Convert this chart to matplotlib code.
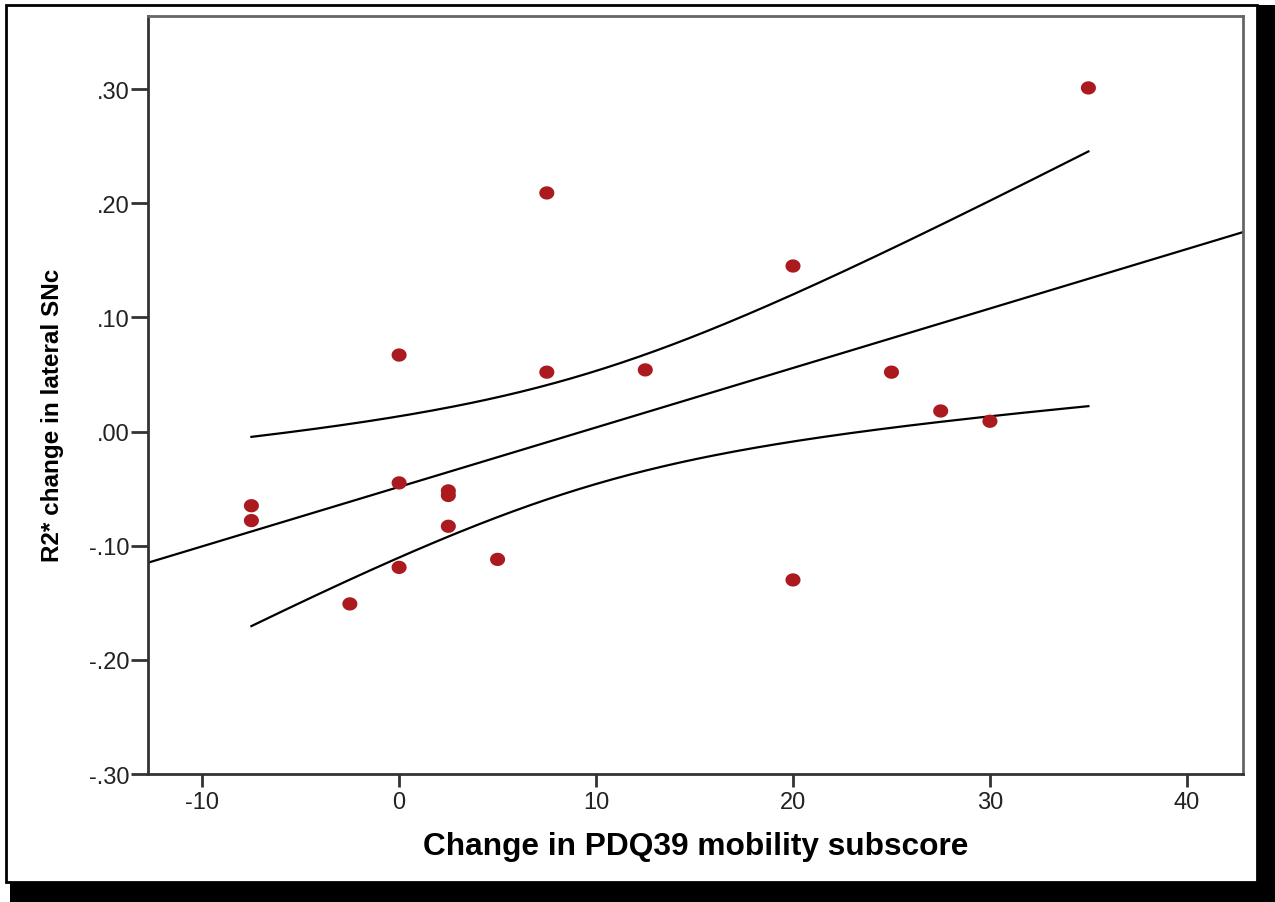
import numpy as np
import matplotlib.pyplot as plt
from matplotlib.patches import Rectangle

# change in PDQ39 mobility subscore vs change in R2* (lateral SNc)
pdq_change = [35, 7.5, 20, 0, 7.5, 12.5, 25, 27.5, 30, 0,
              2.5, 2.5, 2.5, -7.5, -7.5, 0, 5, -2.5, 20]
r2_change = [0.301, 0.209, 0.145, 0.067, 0.052, 0.054, 0.052, 0.018, 0.009, -0.045,
             -0.052, -0.056, -0.083, -0.065, -0.078, -0.119, -0.112, -0.151, -0.130]

x_ticks = [-10, 0, 10, 20, 30, 40]
y_ticks = [-0.30, -0.20, -0.10, 0.00, 0.10, 0.20, 0.30]
y_labels = ['-.30', '-.20', '-.10', '.00', '.10', '.20', '.30']

plt.rcParams['font.family'] = ['Liberation Sans', 'DejaVu Sans']

fig = plt.figure(figsize=(12.75, 9.03), dpi=100)
W, H = 1275, 903

# shadow + white frame
fig.patches.append(Rectangle((10 / W, 0), 1 - 10 / W, 1 - 6 / H, transform=fig.transFigure,
                             facecolor='black', edgecolor='none', zorder=0))
fig.patches.append(Rectangle((6 / W, 1 - 883 / H), (1257 - 6) / W, (883 - 6) / H,
                             transform=fig.transFigure, facecolor='white',
                             edgecolor='black', linewidth=2, zorder=1))

ax = fig.add_axes([148 / W, 1 - 775 / H, (1243 - 148) / W, (775 - 17) / H])
ax.set_zorder(2)

x = np.array(pdq_change)
y = np.array(r2_change)
n = len(x)
b, a = np.polyfit(x, y, 1)
resid = y - (a + b * x)
s = np.sqrt(np.sum(resid ** 2) / (n - 2))
sxx = np.sum((x - x.mean()) ** 2)
t = 2.1098  # t(0.975, 17)

xl = (-12.75, 42.85)
xx = np.linspace(xl[0], xl[1], 200)
ax.plot(xx, a + b * xx, color='black', lw=1.6, zorder=2)
xc = np.linspace(x.min(), x.max(), 200)
half = t * s * np.sqrt(1 / n + (xc - x.mean()) ** 2 / sxx)
ax.plot(xc, a + b * xc + half, color='black', lw=1.6, zorder=2)
ax.plot(xc, a + b * xc - half, color='black', lw=1.6, zorder=2)

# slightly wide dots, like the SPSS markers
th = np.linspace(0, 2 * np.pi, 40)
dot = np.column_stack([np.cos(th), 0.88 * np.sin(th)])
ax.scatter(x, y, s=118, marker=dot, color='#aa1a1e', edgecolors='none', zorder=3)

ax.set_xlim(*xl)
ax.set_ylim(-0.30, 0.364)
ax.set_xticks(x_ticks)
ax.set_xticklabels([str(v) for v in x_ticks])
ax.set_yticks(y_ticks)
ax.set_yticklabels(y_labels)
ax.tick_params(axis='both', labelsize=17, color='#333333', labelcolor='#222222', width=2)
ax.tick_params(axis='x', length=9, pad=3)
ax.tick_params(axis='y', length=12.5, pad=1)
for side in ['left', 'bottom']:
    ax.spines[side].set_color('#333333')
    ax.spines[side].set_linewidth(2)
for side in ['top', 'right']:
    ax.spines[side].set_color('#666666')
    ax.spines[side].set_linewidth(2)

ax.set_xlabel('Change in PDQ39 mobility subscore', fontsize=22.8, fontweight='bold',
              labelpad=13)
ax.set_ylabel('R2* change in lateral SNc', fontsize=17.5, fontweight='bold', labelpad=18)
ax.yaxis.label.set_y(0.474)

fig.savefig('out.png', dpi=100)
